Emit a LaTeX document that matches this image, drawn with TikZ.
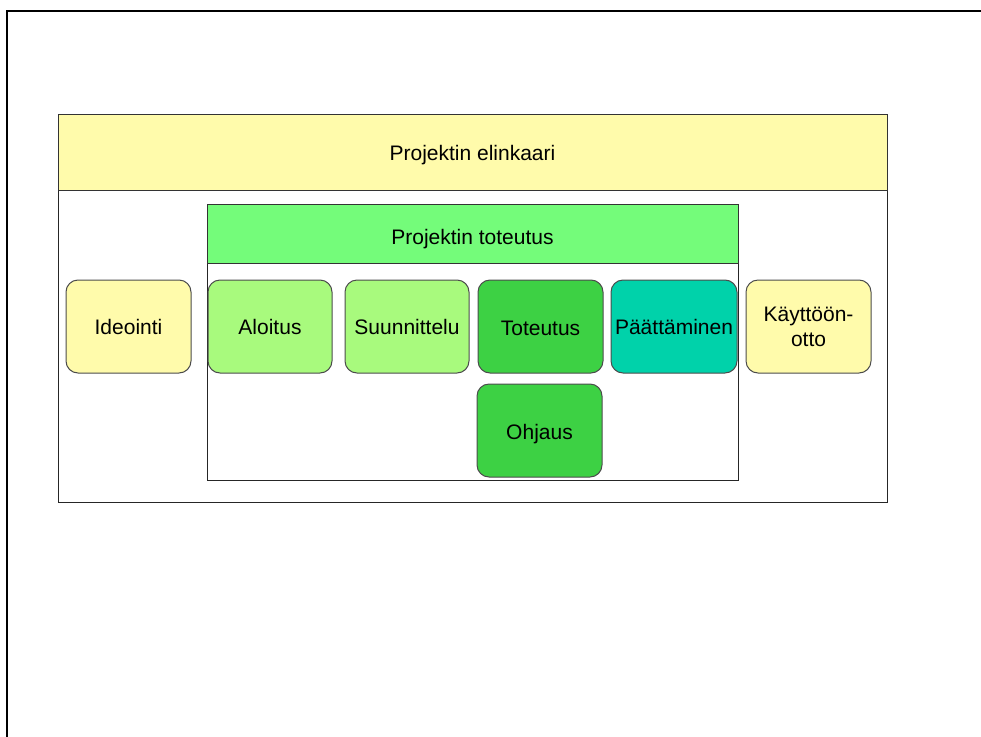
\documentclass[tikz,border=0pt]{standalone}
\usepackage{fontspec}
\setmainfont{Liberation Sans}
\usepackage{tikz}
\usetikzlibrary{positioning}
\definecolor{vaalkelt}{RGB}{255,251,171}
\definecolor{otsvihr}{RGB}{116,252,122}
\definecolor{vaalvihr}{RGB}{168,250,125}
\definecolor{tumvihr}{RGB}{61,209,68}
\definecolor{turkoosi}{RGB}{0,210,170}

\begin{document}
\begin{tikzpicture}[x=1pt, y=-1pt,
  every node/.style={font=\fontsize{21}{25}\selectfont},
  header/.style={draw=black!80, line width=1pt, inner sep=0pt, text depth=5pt},
  vaihe/.style={draw=black!70, line width=1pt, rounded corners=12pt,
    minimum width=125pt, minimum height=93pt, inner sep=0pt, align=center}]
%%% kehys %%%
\useasboundingbox (0,0) rectangle (981,736);
\draw[line width=2pt] (6.5,740) -- (6.5,11) -- (990,11);

      %% projektin elinkaari
      \draw[line width=1pt, black!85] (58,114) rectangle (887,502);
      \node[header, fill=vaalkelt, minimum width=829pt, minimum height=76pt, text height=21pt] (elinkaari) at (472.5,152) {Projektin elinkaari};
      %% projektin toteutus
      \draw[line width=1pt, black!85] (207,204) rectangle (738,480);
      \node[header, fill=otsvihr, minimum width=531pt, minimum height=59pt, text height=27pt] (toteutus) at (472.5,233.5) {Projektin toteutus};
      %
      \node[vaihe, fill=vaalkelt] (ideointi) at (128.5,326.5) {Ideointi};
      \node[vaihe, fill=vaalvihr, minimum width=124pt] (aloitus) at (270,326.5) {Aloitus};
      \node[vaihe, fill=vaalvihr, minimum width=124pt] (suunnittelu) at (407,326.5) {Suunnittelu};
      \node[vaihe, fill=tumvihr, text height=19pt] (toteutusv) at (540.5,326.5) {Toteutus};
      \node[vaihe, fill=turkoosi, minimum width=126pt] (paattaminen) at (674,326.5) {Päättäminen};
      \node[vaihe, fill=vaalkelt] (kayttoonotto) at (808.5,326.5) {Käyttöön-\\otto};
      %
      \node[vaihe, fill=tumvihr, text height=23pt, text depth=5pt] (ohjaus) at (539.5,430.5) {Ohjaus};

\end{tikzpicture}
\end{document}
